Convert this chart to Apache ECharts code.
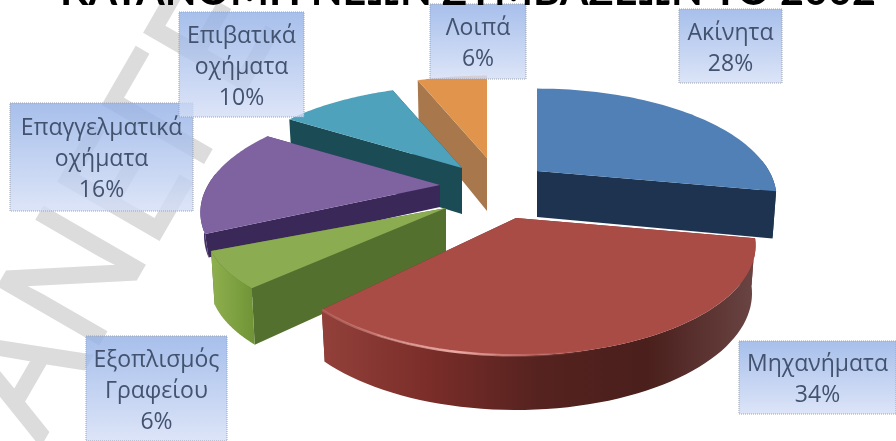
<!DOCTYPE html>
<html>
<head>
<meta charset="utf-8">
<style>html,body{margin:0;padding:0;background:#fff}#chart{width:896px;height:441px}</style>
<script src="https://cdn.jsdelivr.net/npm/echarts@6/dist/echarts.min.js"></script>
</head>
<body>
<div id="chart"></div>
<script>
// Share of new contracts in 2002, by asset class
const categories = ['Ακίνητα', 'Μηχανήματα', 'Εξοπλισμός\nΓραφείου', 'Επαγγελματικά\nοχήματα', 'Επιβατικά\nοχήματα', 'Λοιπά'];
const shares = [28, 34, 6, 16, 10, 6];
const titleText = 'ΚΑΤΑΝΟΜΗ ΝΕΩΝ ΣΥΜΒΑΣΕΩΝ ΤΟ 2002';
const watermarkText = 'ΑΝΕΓΕ';

// Each exploded wedge has its own apex, height and vertical radius on the canvas
const apexX = [537, 516, 446, 440, 462, 487];
const apexY = [171, 218, 208, 185, 168, 158];
const radiusY = [103, 103, 90, 103, 103, 103];
const depths = [46, 46, 50, 22, 46, 53];
const topColors = ['#5080b6', '#a94c46', '#8bac50', '#7f63a1', '#4fa2bb', '#e0944c'];
const sideColors = ['#1e3350', '#7a2b27', '#54702f', '#3a2858', '#1b4c55', '#a8784c'];
const rimStops = [
  ['#1e3350', '#1e3350'],
  ['#93403a', '#7a2d29', '#55221f', '#4a1f1c', '#6a4543'],
  ['#8fb04e', '#6f9336'],
  ['#4a3670', '#3a2858'],
  ['#2f7f92', '#1b4c55'],
  ['#b07a45', '#a8784c']
];
// Back-to-front paint order
const paintOrder = [5, 4, 3, 2, 0, 1];
const labelBoxes = [
  [679, 9, 103, 74],
  [739, 341, 157, 73],
  [86, 336, 141, 105],
  [10, 103, 183, 108],
  [179, 12, 125, 105],
  [430, 4, 96, 75]
];

const RX = 232, PERSPECTIVE = 0.25;

function rimPoint(cx, cy, ry, t) {
  const X = Math.sin(t), Y = Math.cos(t);
  const s = 1 / (1 + PERSPECTIVE * Y);
  return { x: cx + RX * X * s, y: cy - ry * Y * s, s: s };
}
function drop(cx, depth, p) {
  return [cx + (p.x - cx) * 0.985, p.y + depth * Math.pow(p.s, 0.6)];
}

const total = shares.reduce((a, b) => a + b, 0);
const startAngles = [];
shares.reduce((acc, v, i) => { startAngles[i] = acc; return acc + v; }, 0);

function wedge(params, api) {
  const i = api.value(0);
  const cx = apexX[i], cy = apexY[i], depth = depths[i];
  const t0 = startAngles[i] / total * Math.PI * 2;
  const t1 = t0 + api.value(1) / total * Math.PI * 2;
  const steps = 60;
  const arc = [];
  for (let k = 0; k <= steps; k++) {
    arc.push(rimPoint(cx, cy, radiusY[i], t0 + (t1 - t0) * k / steps));
  }
  const first = arc[0], last = arc[steps];
  const apexDrop = [cx, cy + depth];
  const sideA = [[cx, cy], [first.x, first.y], drop(cx, depth, first), apexDrop];
  const sideB = [[cx, cy], [last.x, last.y], drop(cx, depth, last), apexDrop];
  const front = arc.filter(p => p.s >= 0.97);
  const rim = front.map(p => [p.x, p.y]).concat(front.slice().reverse().map(p => drop(cx, depth, p)));
  const face = [[cx, cy]].concat(arc.map(p => [p.x, p.y]));

  const children = [
    { type: 'polygon', shape: { points: sideA }, style: { fill: sideColors[i] } },
    { type: 'polygon', shape: { points: sideB }, style: { fill: sideColors[i] } }
  ];
  if (rim.length > 3) {
    const stops = rimStops[i];
    children.push({
      type: 'polygon', shape: { points: rim },
      style: { fill: new echarts.graphic.LinearGradient(0, 0, 1, 0,
        stops.map((color, k) => ({ offset: k / (stops.length - 1), color }))) }
    });
  }
  children.push({ type: 'polygon', shape: { points: face }, style: { fill: topColors[i] } });
  // Bevel highlight along the front edge of the large wedge
  if (i === 1) {
    const glow = arc.filter(p => p.x < cx + 80).map(p => [p.x, p.y]);
    children.push({
      type: 'polyline', shape: { points: glow },
      style: { fill: 'none', lineWidth: 2.5, stroke: new echarts.graphic.LinearGradient(0, 0, 1, 0, [
        { offset: 0, color: 'rgba(235,170,165,0.2)' },
        { offset: 0.5, color: 'rgba(240,175,170,0.95)' },
        { offset: 1, color: 'rgba(200,100,95,0)' }
      ]) }
    });
  }
  return { type: 'group', children };
}

const boxFill = new echarts.graphic.LinearGradient(0, 0, 0, 1, [
  { offset: 0, color: 'rgba(145,175,230,0.8)' },
  { offset: 1, color: 'rgba(212,222,246,0.8)' }
]);

const labelGraphics = categories.map((name, i) => {
  const b = labelBoxes[i];
  const rect = {
    type: 'rect', z: 10,
    shape: { x: b[0], y: b[1], width: b[2], height: b[3] },
    style: { fill: boxFill, stroke: '#9aa3b5', lineWidth: 1, lineDash: [1, 1] }
  };
  const text = {
    type: 'text', z: 11,
    x: b[0] + b[2] / 2, y: b[1] + b[3] / 2 + 2.5,
    style: {
      text: name + '\n' + shares[i] + '%',
      fill: '#42526f', font: '23px "Open Sans"', lineHeight: 31,
      align: 'center', verticalAlign: 'middle'
    }
  };
  return [rect, text];
}).flat();

const chart = echarts.init(document.getElementById('chart'), null, { renderer: 'canvas' });
chart.setOption({
  animation: false,
  backgroundColor: '#ffffff',
  graphic: {
    elements: [
      {
        type: 'text', z: 0, x: 70, y: 461, rotation: Math.PI / 3,
        style: {
          text: watermarkText, fill: '#dcdcdc', stroke: '#dcdcdc', lineWidth: 4,
          font: '160px "Open Sans"', verticalAlign: 'bottom'
        }
      },
      ...labelGraphics,
      {
        type: 'text', z: 12, x: 468, y: 12,
        style: { text: titleText, fill: '#000', font: 'bold 41.3px "Lato"', align: 'center', verticalAlign: 'bottom' }
      }
    ]
  },
  series: [{
    type: 'custom',
    coordinateSystem: 'none',
    z: 5,
    clip: false,
    renderItem: wedge,
    data: paintOrder.map(i => [i, shares[i]]),
    silent: true
  }]
});
</script>
</body>
</html>
